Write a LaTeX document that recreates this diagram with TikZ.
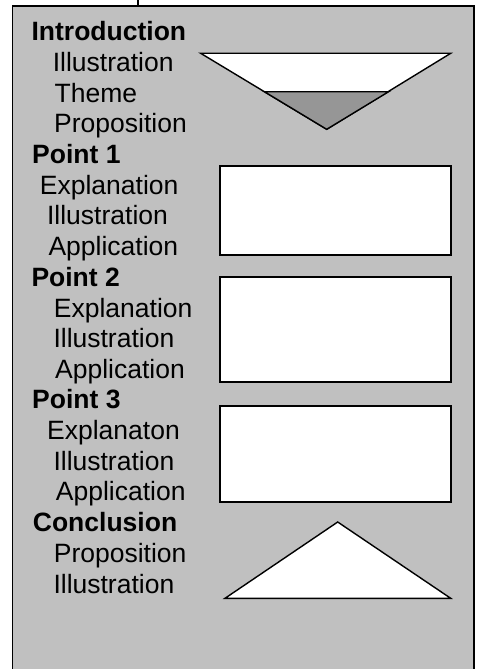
\documentclass[tikz,border=0pt]{standalone}
\usepackage{fontspec}
\setmainfont{Liberation Sans}
\begin{document}
\begin{tikzpicture}[x=1pt, y=-1pt, every node/.style={inner sep=0pt, anchor=base west, font=\fontsize{26.5}{31}\selectfont}]
	\tikzstyle{heading} = [font=\fontsize{26.5}{31}\selectfont\bfseries]
	\tikzstyle{figbox} = [draw=black, line width=1.8pt, fill=white]
	\tikzstyle{figtri} = [draw=black, line width=1.4pt, line join=miter, fill=white]
	\definecolor{panelgray}{HTML}{C0C0C0}
	\definecolor{darkgray}{HTML}{969696}
	\useasboundingbox (0,0) rectangle (478,669);
	% grey panel, open at the bottom
	\fill[panelgray] (12.5,6) rectangle (474,669);
	\draw[line width=1.8pt] (12.5,669) -- (12.5,6) -- (474,6) -- (474,669);
	\coordinate (tick-top) at (138,0);
	\coordinate (tick-bot) at (138,6);
	\draw[line width=1.2pt] (tick-top) -- (tick-bot);
	% shapes
	\draw[figtri] (200.7,53.3) -- (450.7,53.3) -- (326.7,129.3) -- cycle;
	\draw[figtri, fill=darkgray] (264.4,91.7) -- (388.6,91.7) -- (326.7,129.3) -- cycle;
	\draw[figbox] (220,166) rectangle (450.7,255);
	\draw[figbox] (220,276.7) rectangle (450.7,382);
	\draw[figbox] (220,406) rectangle (450.7,502);
	\draw[figtri] (337.7,522) -- (450.7,598.3) -- (225,598.3) -- cycle;
	% texts
	\node[heading](intro)at (31.4,40.7){Introduction};
	\node[](intro-ill)at (52.6,71.4){Illustration};
	\node[](intro-theme)at (54.4,102.1){Theme};
	\node[](intro-prop)at (54,132.8){Proposition};
	\node[heading](p1)at (32,163.5){Point 1};
	\node[](p1-exp)at (39.7,194.2){Explanation};
	\node[](p1-ill)at (46.9,224.9){Illustration};
	\node[](p1-app)at (48.3,255.6){Application};
	\node[heading](p2)at (31.3,286.3){Point 2};
	\node[](p2-exp)at (53.7,317){Explanation};
	\node[](p2-ill)at (53.3,347.7){Illustration};
	\node[](p2-app)at (55,378.4){Application};
	\node[heading](p3)at (32,408.5){Point 3};
	\node[](p3-exp)at (47,439.5){Explanaton};
	\node[](p3-ill)at (53.3,470.2){Illustration};
	\node[](p3-app)at (55.7,500.9){Application};
	\node[heading](concl)at (32.7,531.6){Conclusion};
	\node[](concl-prop)at (53.7,562.3){Proposition};
	\node[](concl-ill)at (53.3,593){Illustration};
\end{tikzpicture}
\end{document}
